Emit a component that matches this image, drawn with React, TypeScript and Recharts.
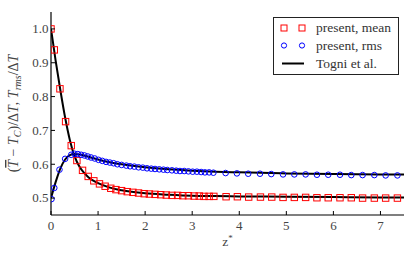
import React from 'react';
import { ComposedChart, XAxis, YAxis, Scatter, Line, Legend } from 'recharts';

// present, mean (red squares)
const meanZ = [0.0, 0.07, 0.19, 0.31, 0.43, 0.55, 0.67, 0.79, 0.91, 1.03, 1.15, 1.27, 1.38, 1.5, 1.62,
  1.74, 1.86, 1.98, 2.09, 2.21, 2.33, 2.45, 2.57, 2.69, 2.8, 2.92, 3.04, 3.15, 3.25, 3.36,
  3.46, 3.72, 3.96, 4.2, 4.45, 4.69, 4.93, 5.17, 5.41, 5.65, 5.89, 6.14, 6.38, 6.62, 6.87, 7.11, 7.36];
const meanT = [1.0, 0.938, 0.823, 0.726, 0.655, 0.611, 0.582, 0.564, 0.551, 0.542, 0.535, 0.529, 0.525, 0.522, 0.519,
  0.517, 0.515, 0.513, 0.512, 0.511, 0.51, 0.509, 0.508, 0.508, 0.507, 0.507, 0.506, 0.506, 0.505, 0.505,
  0.505, 0.504, 0.504, 0.503, 0.503, 0.503, 0.502, 0.502, 0.502, 0.501, 0.501, 0.501, 0.501, 0.5, 0.5, 0.5, 0.5];

// present, rms (blue circles)
const rmsZ = [0.01, 0.07, 0.18, 0.3, 0.43, 0.5, 0.57, 0.64, 0.71, 0.78, 0.85, 0.93, 1.01, 1.09, 1.17,
  1.25, 1.33, 1.41, 1.5, 1.6, 1.68, 1.77, 1.86, 1.95, 2.04, 2.13, 2.21, 2.3, 2.39, 2.47,
  2.57, 2.66, 2.74, 2.83, 2.92, 3.01, 3.1, 3.19, 3.27, 3.36, 3.45, 3.71, 3.95, 4.19, 4.44,
  4.68, 4.93, 5.17, 5.41, 5.65, 5.89, 6.14, 6.38, 6.62, 6.87, 7.11, 7.36];
const rmsT = [0.497, 0.53, 0.584, 0.616, 0.628, 0.631, 0.63, 0.628, 0.626, 0.623, 0.62, 0.617, 0.613, 0.61, 0.607,
  0.605, 0.603, 0.6, 0.598, 0.596, 0.594, 0.593, 0.591, 0.59, 0.588, 0.587, 0.586, 0.585, 0.584, 0.583,
  0.582, 0.581, 0.58, 0.58, 0.579, 0.578, 0.578, 0.577, 0.576, 0.576, 0.575, 0.574, 0.573, 0.572, 0.572,
  0.571, 0.57, 0.57, 0.57, 0.569, 0.569, 0.569, 0.568, 0.568, 0.568, 0.567, 0.567];

// Togni et al. reference curves
const togniZ = [0, 0.1, 0.2, 0.3, 0.4, 0.5, 0.6, 0.7, 0.8, 1.0, 1.25, 1.5, 2, 2.5, 3, 3.5, 4, 5, 6, 7, 7.5];
const togniMean = [1.0, 0.905, 0.818, 0.738, 0.672, 0.624, 0.594, 0.575, 0.561, 0.544, 0.531, 0.523, 0.514,
  0.51, 0.507, 0.506, 0.505, 0.504, 0.503, 0.502, 0.502];
const togniRms = [0.5, 0.548, 0.588, 0.614, 0.627, 0.63, 0.629, 0.626, 0.622, 0.614, 0.606, 0.6, 0.591,
  0.585, 0.581, 0.578, 0.576, 0.573, 0.571, 0.57, 0.57];

const xTicks = [0, 1, 2, 3, 4, 5, 6, 7];
const yTicks = [0.5, 0.6, 0.7, 0.8, 0.9, 1.0];

const toPoints = (zs: number[], vs: number[]) => zs.map((z, i) => ({ z, v: vs[i] }));

const FONT = "'Liberation Serif', 'DejaVu Serif', serif";
const RED = '#ff0000';
const BLUE = '#0000ff';
const serif = { fontFamily: FONT };

const Square = (p: any) => (
  <rect x={p.cx - 3.2} y={p.cy - 3.2} width={6.4} height={6.4} fill="none" stroke={RED} strokeWidth={1} />
);
const Circle = (p: any) => (
  <circle cx={p.cx} cy={p.cy} r={2.8} fill="none" stroke={BLUE} strokeWidth={1} />
);

const BottomTick = (p: any) => (
  <g>
    <line x1={p.x} y1={p.y} x2={p.x} y2={p.y - 4} stroke="#000" />
    <text x={p.x} y={p.y + 15} textAnchor="middle" style={serif} fontSize={13} fill="#444">
      {p.payload.value}
    </text>
  </g>
);
const TopTick = (p: any) => <line x1={p.x} y1={p.y} x2={p.x} y2={p.y + 4} stroke="#000" />;
const LeftTick = (p: any) => (
  <g>
    <line x1={p.x} y1={p.y} x2={p.x + 4} y2={p.y} stroke="#000" />
    <text x={p.x - 2.5} y={p.y + 4.3} textAnchor="end" style={serif} fontSize={13} fill="#444">
      {Number(p.payload.value).toFixed(1)}
    </text>
  </g>
);
const RightTick = (p: any) => <line x1={p.x} y1={p.y} x2={p.x - 4} y2={p.y} stroke="#000" />;

const YLabel = (props: any) => {
  const vb = props.viewBox;
  const cy = vb.y + vb.height / 2;
  return (
    <text transform={`translate(18,${cy}) rotate(-90)`} textAnchor="middle" style={serif} fontSize={14} fill="#444">
      <tspan>(</tspan>
      <tspan fontStyle="italic" style={{ textDecoration: 'overline' }}>T</tspan>
      <tspan> − </tspan>
      <tspan fontStyle="italic">T</tspan>
      <tspan fontStyle="italic" fontSize={10} dy={3}>C</tspan>
      <tspan dy={-3}>)/Δ</tspan>
      <tspan fontStyle="italic">T</tspan>
      <tspan>, </tspan>
      <tspan fontStyle="italic">T</tspan>
      <tspan fontStyle="italic" fontSize={10} dy={3}>rms</tspan>
      <tspan dy={-3}>/Δ</tspan>
      <tspan fontStyle="italic">T</tspan>
    </text>
  );
};

const XLabel = (props: any) => {
  const vb = props.viewBox;
  return (
    <text x={vb.x + vb.width / 2} y={246} textAnchor="middle" style={serif} fontSize={13.5} fill="#444">
      <tspan>z</tspan>
      <tspan fontSize={9} dy={-5}>*</tspan>
    </text>
  );
};

const LegendBox = () => (
  <svg width={126} height={58} style={{ display: 'block' }}>
    <rect x={0.5} y={0.5} width={125} height={57} fill="#fff" stroke="#222" strokeWidth={1} />
    <rect x={8} y={8} width={6} height={6} fill="none" stroke={RED} />
    <rect x={26} y={8} width={6} height={6} fill="none" stroke={RED} />
    <circle cx={11} cy={28.5} r={2.6} fill="none" stroke={BLUE} />
    <circle cx={29} cy={28.5} r={2.6} fill="none" stroke={BLUE} />
    <line x1={9} y1={46.5} x2={31} y2={46.5} stroke="#000" strokeWidth={2} />
    <g style={serif} fontSize={13.5} fill="#333">
      <text x={43} y={15}>present, mean</text>
      <text x={43} y={33}>present, rms</text>
      <text x={43} y={51}>Togni et al.</text>
    </g>
  </svg>
);

export default function App() {
  return (
    <div style={{ position: 'absolute', left: 0, top: 0, background: '#fff' }}>
      <ComposedChart width={415} height={260} margin={{ top: 12, right: 11, bottom: 0, left: 0 }}>
        <XAxis
          xAxisId={0}
          type="number"
          dataKey="z"
          domain={[0, 7.5]}
          ticks={xTicks}
          allowDataOverflow
          height={45}
          tickSize={0}
          tickMargin={0}
          tickLine={false}
          axisLine={{ stroke: '#000', strokeWidth: 1.2 }}
          tick={<BottomTick />}
          interval={0}
          label={<XLabel />}
        />
        <XAxis
          xAxisId="top"
          orientation="top"
          type="number"
          dataKey="z"
          domain={[0, 7.5]}
          ticks={xTicks}
          allowDataOverflow
          height={0}
          tickSize={0}
          tickMargin={0}
          tickLine={false}
          axisLine={{ stroke: '#000', strokeWidth: 1.2 }}
          tick={<TopTick />}
          interval={0}
        />
        <YAxis
          yAxisId={0}
          type="number"
          dataKey="v"
          domain={[0.45, 1.05]}
          ticks={yTicks}
          allowDataOverflow
          width={51}
          tickSize={0}
          tickMargin={0}
          tickLine={false}
          axisLine={{ stroke: '#000', strokeWidth: 1.2 }}
          tick={<LeftTick />}
          interval={0}
          label={<YLabel />}
        />
        <YAxis
          yAxisId="right"
          orientation="right"
          type="number"
          dataKey="v"
          domain={[0.45, 1.05]}
          ticks={yTicks}
          allowDataOverflow
          width={0}
          tickSize={0}
          tickMargin={0}
          tickLine={false}
          axisLine={{ stroke: '#000', strokeWidth: 1.2 }}
          tick={<RightTick />}
          interval={0}
        />
        <Scatter name="present, mean" data={toPoints(meanZ, meanT)} dataKey="v" shape={Square} isAnimationActive={false} />
        <Scatter name="present, rms" data={toPoints(rmsZ, rmsT)} dataKey="v" shape={Circle} isAnimationActive={false} />
        <Line
          name="Togni et al."
          data={toPoints(togniZ, togniMean)}
          dataKey="v"
          type="monotone"
          stroke="#000"
          strokeWidth={2}
          dot={false}
          activeDot={false}
          isAnimationActive={false}
        />
        <Line
          legendType="none"
          data={toPoints(togniZ, togniRms)}
          dataKey="v"
          type="monotone"
          stroke="#000"
          strokeWidth={2}
          dot={false}
          activeDot={false}
          isAnimationActive={false}
        />
        <Legend
          layout="vertical"
          align="center"
          verticalAlign="middle"
          content={<LegendBox />}
          wrapperStyle={{ left: 273, top: 17, width: 126, height: 58 }}
        />
      </ComposedChart>
    </div>
  );
}
